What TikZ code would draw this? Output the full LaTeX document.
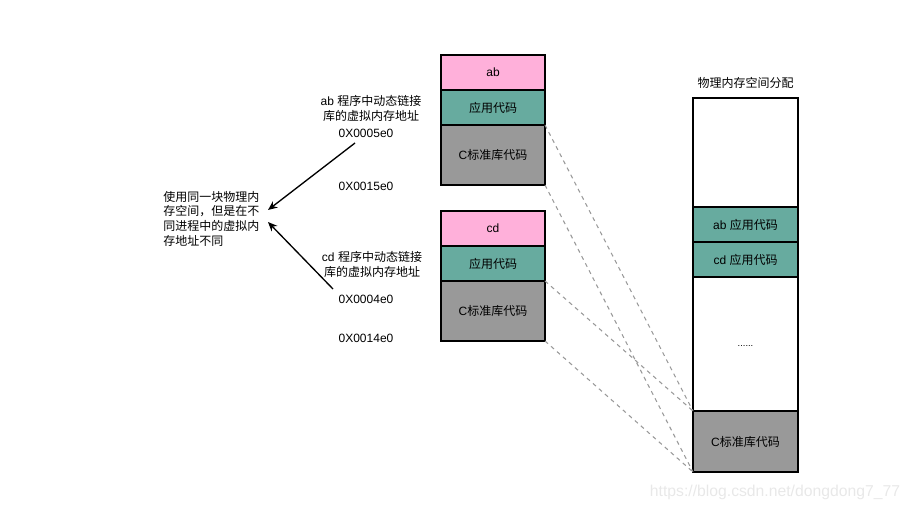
\documentclass[tikz,border=0pt]{standalone}
\usepackage{fontspec}
\setmainfont{Liberation Sans}
\newfontfamily\cjk{Noto Sans CJK SC}
\usetikzlibrary{arrows.meta}
\definecolor{pinkc}{HTML}{FFB0DA}
\definecolor{greenc}{HTML}{67AB9F}
\definecolor{grayc}{HTML}{999999}
\definecolor{wm}{HTML}{E8E8E8}
\begin{document}
\begin{tikzpicture}[x=0.75pt,y=-0.75pt,
  font=\fontsize{9}{11}\selectfont,
  blk/.style={draw=black,line width=1.1pt,inner sep=0pt,outer sep=0pt,minimum width=78pt,align=center},
  pblk/.style={blk,minimum width=78.75pt},
  lbl/.style={inner sep=0pt,align=center},
  dl/.style={draw=grayc,line width=0.8pt,dash pattern=on 3pt off 3pt},
  arr/.style={draw=black,line width=1pt,-{Stealth[length=7pt,width=6pt]}}]
\useasboundingbox (0,0) rectangle (911,511);
% ab process
\node[blk,fill=pinkc,minimum height=26.25pt] (aba) at (493,72.5) {ab};
\node[blk,fill=greenc,minimum height=26.25pt] (abb) at (493,107.5) {\cjk 应用代码};
\node[blk,fill=grayc,minimum height=45pt] (abc) at (493,155) {C{\cjk 标准库代码}};
% cd process
\node[blk,fill=pinkc,minimum height=26.25pt] (cda) at (493,228.5) {cd};
\node[blk,fill=greenc,minimum height=26.25pt] (cdb) at (493,263.5) {\cjk 应用代码};
\node[blk,fill=grayc,minimum height=45pt] (cdc) at (493,311) {C{\cjk 标准库代码}};
% physical memory
\node[lbl] (ptitle) at (745.5,82.5) {\cjk 物理内存空间分配};
\node[pblk,fill=white,minimum height=81.75pt] (pa) at (745.5,152.5) {};
\node[pblk,fill=greenc,minimum height=26.25pt] (pb) at (745.5,224.5) {ab {\cjk 应用代码}};
\node[pblk,fill=greenc,minimum height=26.25pt] (pcd) at (745.5,259.5) {cd {\cjk 应用代码}};
\node[pblk,fill=white,minimum height=100.5pt] (pd) at (745.5,344) {};
\node[lbl,font=\fontsize{7}{8}\selectfont] (dots) at (745.5,346) {......};
\node[pblk,fill=grayc,minimum height=45.75pt] (pc) at (745.5,441.5) {C{\cjk 标准库代码}};
% dashed mapping lines
\draw[dl] (abc.north east) -- (pc.north west);
\draw[dl] (abc.south east) -- (pc.south west);
\draw[dl] (cdc.north east) -- (pc.north west);
\draw[dl] (cdc.south east) -- (pc.south west);
% labels
\node[lbl] (ablbl) at (371,108.5) {ab {\cjk 程序中动态链接}\\{\cjk 库的虚拟内存地址}};
\node[lbl] (ab1) at (366,133) {0X0005e0};
\node[lbl] (ab2) at (366,186) {0X0015e0};
\node[lbl] (cdlbl) at (372,264.5) {cd {\cjk 程序中动态链接}\\{\cjk 库的虚拟内存地址}};
\node[lbl] (cd1) at (366,299) {0X0004e0};
\node[lbl] (cd2) at (366,338) {0X0014e0};
\node[lbl,align=left,anchor=west] (note) at (163,218.5) {\cjk 使用同一块物理内\\\cjk 存空间，但是在不\\\cjk 同进程中的虚拟内\\\cjk 存地址不同};
% arrows
\coordinate (s1) at (355,143);
\coordinate (e1) at (268,210);
\coordinate (s2) at (333,289);
\coordinate (e2) at (268,222);
\draw[arr] (s1) -- (e1);
\draw[arr] (s2) -- (e2);
% watermark
\node[lbl,text=wm,font=\fontsize{11.8}{13}\selectfont] (wmk) at (775,492) {https://blog.csdn.net/dongdong7\_77};
\end{tikzpicture}
\end{document}
